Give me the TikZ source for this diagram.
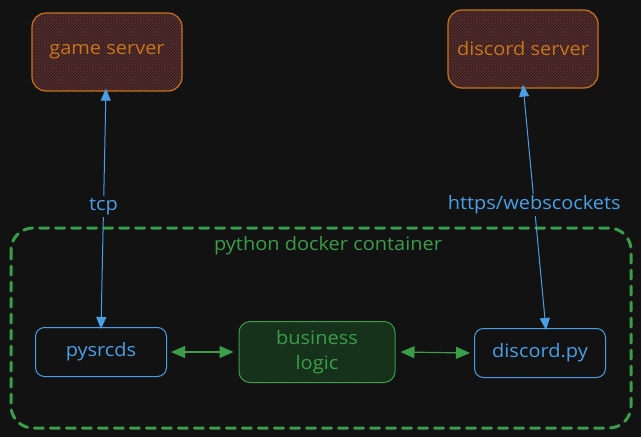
\documentclass[tikz,border=0pt]{standalone}
\usepackage{fontspec}
\setmainfont[FakeStretch=1.08]{Open Sans}
\usetikzlibrary{arrows.meta,patterns}
\definecolor{bg}{HTML}{121212}
\definecolor{orng}{HTML}{C8741A}
\definecolor{ofill}{HTML}{2A1C1C}
\definecolor{ohatch}{HTML}{603030}
\definecolor{blu}{HTML}{4A9EE6}
\definecolor{grn}{HTML}{3A9D4A}
\definecolor{gfill}{HTML}{112A16}
\tikzset{
  txt/.style={font=\fontsize{18.5}{25}\selectfont},
  srvbox/.style={txt, draw=orng, line width=1.2pt, rounded corners=14pt, preaction={fill=ofill}, pattern=crosshatch, pattern color=ohatch, text=orng, minimum width=150pt, minimum height=78pt},
  pybox/.style={txt, draw=blu, line width=1pt, rounded corners=9pt, fill=bg, text=blu, minimum width=131pt, minimum height=49pt},
  logicbox/.style={txt, draw=grn, line width=1pt, rounded corners=11pt, preaction={fill=gfill}, pattern=north east lines, pattern color=grn!35!bg, text=grn, minimum width=156pt, minimum height=61pt, align=center},
  blink/.style={draw=blu, line width=1pt, {Triangle[length=12pt,width=10pt]}-{Triangle[length=12pt,width=10pt]}},
  glink/.style={draw=grn, line width=1.2pt, {Triangle[length=14pt,width=12pt]}-{Triangle[length=14pt,width=12pt]}},
  lbl/.style={txt, fill=bg, inner sep=2pt, text=blu},
}
\begin{document}
\begin{tikzpicture}[x=1pt,y=-1pt]
\fill[bg] (0,0) rectangle (641,437);
\useasboundingbox (0,0) rectangle (641,437);
% container
\draw[grn, line width=3pt, dash pattern=on 9pt off 7pt, line cap=round, rounded corners=22pt] (11,228) rectangle (631,428);
\node[txt, text=grn] (cont) at (328,246) {python docker container};
% nodes
\node[srvbox] (game) at (107,52) {game server};
\node[srvbox] (disc) at (523,49) {discord server};
\node[pybox] (pys) at (101,352) {pysrcds};
\node[logicbox] (logic) at (317,352) {business\\logic};
\node[pybox] (dpy) at (540,353) {discord.py};
% connectors
\draw[blink] ([xshift=-1pt,yshift=3pt]game.south) -- ([xshift=0pt,yshift=-2pt]pys.north) node[lbl, pos=0.49] (tcp) {tcp};
\draw[blink] ([yshift=4pt]disc.south) -- ([xshift=6pt,yshift=-2pt]dpy.north) node[lbl, pos=0.49] (https) {https/webscockets};
\draw[glink] ([xshift=4pt]pys.east) -- ([xshift=-5pt]logic.west);
\draw[glink] ([xshift=5pt]logic.east) -- ([xshift=-4pt]dpy.west);
\end{tikzpicture}
\end{document}
